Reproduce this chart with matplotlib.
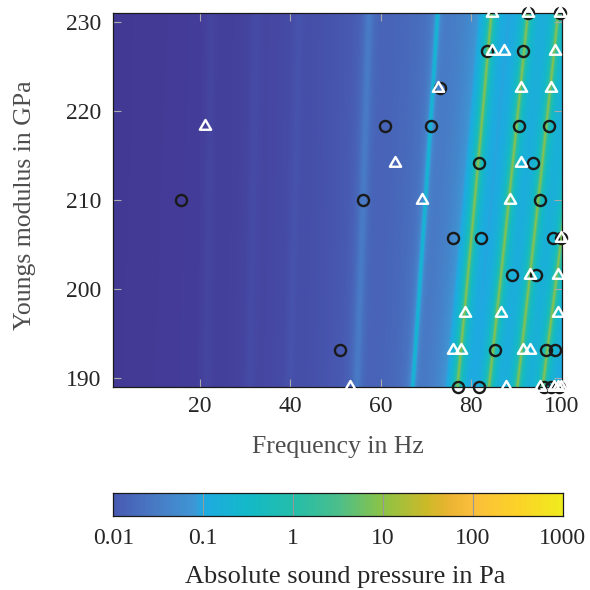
import numpy as np
import matplotlib
matplotlib.use("Agg")
import matplotlib.pyplot as plt
from matplotlib.colors import LinearSegmentedColormap, Normalize
from matplotlib.path import Path
import matplotlib.ticker as mticker

plt.rcParams['font.family'] = ['Liberation Serif', 'DejaVu Serif']

# ---------------- data ----------------
# resonance bands: frequency at E=189 GPa, at E=231 GPa, peak amplitude (Pa), half width (Hz)
res_f_low = [21.5, 31.0, 40.0, 54.8, 67.2, 77.1, 84.1, 90.4, 96.0]
res_f_high = [22.5, 32.5, 42.0, 57.5, 72.7, 84.6, 92.7, 99.4, 106.1]
res_amp = [0.0012, 0.0015, 0.002, 0.02, 0.25, 10.0, 10.0, 10.0, 10.0]
res_width = [1.0, 1.0, 1.0, 0.9, 0.25, 0.2, 0.2, 0.2, 0.2]

# background sound pressure level (log10 Pa) versus frequency
bg_freq = [1, 15, 20, 25, 30, 40, 50, 60, 70, 80, 90, 100]
bg_log = [-2.65, -2.62, -2.6, -2.56, -2.5, -2.35, -2.15, -1.97, -1.78, -1.55, -1.33, -1.15]

# circles (frequency in Hz, Young's modulus in GPa)
circ_f = [15.8, 56.0, 95.2, 61.0, 71.2, 90.7, 97.3, 73.2, 83.6, 91.6, 92.7, 99.8,
          81.7, 93.7, 76.1, 82.2, 98.1, 100.0, 89.2, 94.4, 51.0, 85.3, 96.6, 98.6,
          77.2, 81.8, 96.3, 97.8, 99.6]
circ_E = [210, 210, 210, 218.4, 218.4, 218.4, 218.4, 222.6, 226.8, 226.8, 231, 231,
          214.2, 214.2, 205.8, 205.8, 205.8, 205.8, 201.6, 201.6, 193.2, 193.2, 193.2, 193.2,
          189, 189, 189, 189, 189]

# triangles
tri_f = [84.7, 92.7, 99.8, 84.7, 87.3, 98.7, 72.6, 91.2, 97.7, 21.0, 63.2, 91.2,
         69.1, 88.7, 100.0, 93.2, 99.2, 78.7, 86.7, 99.2, 76.0, 77.8, 91.5, 93.1,
         53.1, 87.8, 95.3, 98.4, 99.4, 100.0]
tri_E = [231, 231, 231, 226.8, 226.8, 226.8, 222.6, 222.6, 222.6, 218.4, 214.2, 214.2,
         210, 210, 205.8, 201.6, 201.6, 197.4, 197.4, 197.4, 193.2, 193.2, 193.2, 193.2,
         189, 189, 189, 189, 189, 189]

x_ticks = [20, 40, 60, 80, 100]
y_ticks = [190, 200, 210, 220, 230]
cb_ticks = [0.01, 0.1, 1, 10, 100, 1000]
cb_ticklabels = ['0.01', '0.1', '1', '10', '100', '1000']

# colormap anchors (log10 Pa, colour)
cmap_log = [-3.0, -2.6, -2.0, -1.5, -1.1, -1.0, -0.5, 0.0, 0.5, 1.0, 1.5, 1.75, 2.0, 2.5, 3.0]
cmap_rgb = [(60, 48, 140), (67, 58, 150), (72, 90, 178), (72, 125, 198), (62, 150, 212),
            (30, 170, 225), (20, 185, 200), (35, 190, 170), (75, 190, 140), (140, 195, 70),
            (205, 185, 40), (235, 180, 50), (250, 190, 60), (252, 210, 40), (240, 235, 30)]

# ---------------- field ----------------
fmin, fmax = 0.75, 100.25
Emin, Emax = 189.0, 231.0
f = np.linspace(fmin, fmax, 2000)
E = np.linspace(Emin, Emax, 220)
F, EE = np.meshgrid(f, E)
P = 10 ** np.interp(F, bg_freq, bg_log)
s = (np.sqrt(EE) - np.sqrt(Emin)) / (np.sqrt(Emax) - np.sqrt(Emin))
for fl, fh, a, w in zip(res_f_low, res_f_high, res_amp, res_width):
    fr = fl + (fh - fl) * s
    P = P + a / (1 + ((F - fr) / w) ** 2)
L = np.log10(P)

vmin, vmax = -3.0, 3.0
cmap = LinearSegmentedColormap.from_list(
    'pc', [((v - vmin) / (vmax - vmin), tuple(c / 255 for c in rgb)) for v, rgb in zip(cmap_log, cmap_rgb)])
norm = Normalize(vmin, vmax)

TICK_FS = 17
LABEL_FS = 18.5

W = 590 / 100
fig = plt.figure(figsize=(W, W), dpi=100)
ax = fig.add_axes([113.3 / 590, 1 - 387.3 / 590, (562.3 - 113.3) / 590, (387.3 - 13.3) / 590])
ax.imshow(L, extent=[fmin, fmax, Emin, Emax], origin='lower', aspect='auto', cmap=cmap, norm=norm,
          interpolation='antialiased', interpolation_stage='rgba')
ax.set_xlim(fmin, fmax)
ax.set_ylim(Emin, Emax)

tri_path = Path([(0, 1), (-0.866, -0.5), (0.866, -0.5), (0, 1)],
                [Path.MOVETO, Path.LINETO, Path.LINETO, Path.CLOSEPOLY])
ax.plot(circ_f, circ_E, linestyle='none', marker='o', markersize=8.0, markerfacecolor='none',
        markeredgecolor='#1a1a1a', markeredgewidth=1.7, clip_on=False, zorder=5)
ax.plot(tri_f, tri_E, linestyle='none', marker=tri_path, markersize=9.4, markerfacecolor='none',
        markeredgecolor='white', markeredgewidth=1.7, clip_on=False, zorder=6)

ax.set_xticks(x_ticks)
ax.set_yticks(y_ticks)
ax.tick_params(direction='in', length=6, width=0.8, color='#aaaaaa', top=True, right=True,
               labelsize=TICK_FS, labelcolor='#262626')
ax.tick_params(axis='x', pad=6)
ax.tick_params(axis='y', pad=8.5)
for sp in ax.spines.values():
    sp.set_linewidth(0.9)
    sp.set_color('#1a1a1a')

fig.text(25 / 590, 1 - 205 / 590, 'Youngs modulus in GPa', rotation=90, ha='center', va='center',
         fontsize=LABEL_FS, color='#4d4d4d')
fig.text(338 / 590, 1 - 447 / 590, 'Frequency in Hz', ha='center', va='center',
         fontsize=LABEL_FS, color='#4d4d4d')

# ---------------- colorbar ----------------
cax = fig.add_axes([113.3 / 590, 1 - 516 / 590, (562.7 - 113.3) / 590, 23 / 590])
cx = np.logspace(-2, 3, 601)
cc = np.log10(np.sqrt(cx[:-1] * cx[1:]))[None, :]
cax.pcolormesh(cx, [0, 1], cc, cmap=cmap, norm=norm, shading='flat')
cax.set_xscale('log')
cax.set_xlim(0.01, 1000)
cax.set_ylim(0, 1)
cax.set_yticks([])
cax.set_xticks(cb_ticks)
cax.set_xticklabels(cb_ticklabels)
cax.xaxis.set_minor_locator(mticker.NullLocator())
cax.tick_params(axis='x', direction='in', length=0, pad=8.5, labelsize=TICK_FS, labelcolor='#262626')
for t in cb_ticks[1:-1]:
    cax.axvline(t, color='#999999', linewidth=0.8)
for sp in cax.spines.values():
    sp.set_linewidth(0.9)
    sp.set_color('#1a1a1a')
fig.text(345 / 590, 1 - 577 / 590, 'Absolute sound pressure in Pa', ha='center', va='center',
         fontsize=LABEL_FS + 0.5, color='#262626')

fig.savefig('out.png', dpi=100)
